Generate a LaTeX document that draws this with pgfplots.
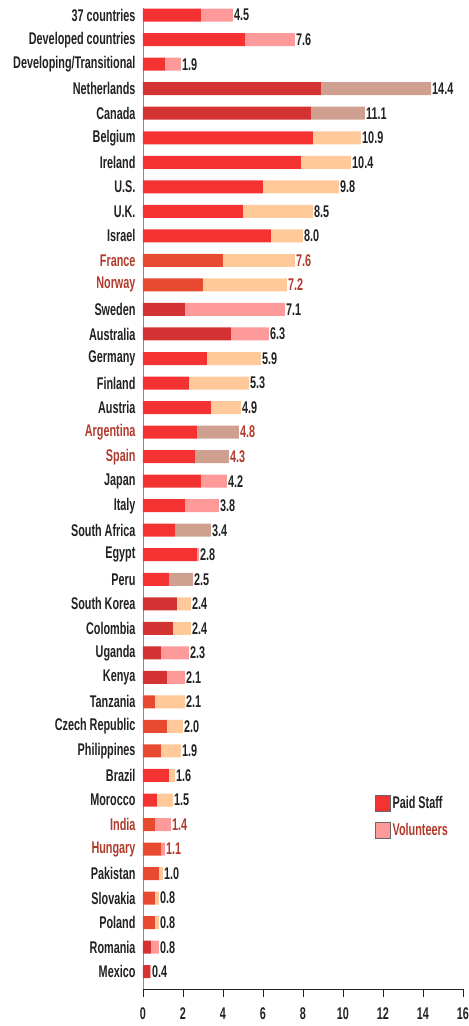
\documentclass[border=0pt]{standalone}
\usepackage{fontspec}
\setmainfont{Liberation Sans}[FakeStretch=0.64]
\usepackage{pgfplots}
\usepackage{pgfplotstable}
\pgfplotsset{compat=1.18}
\definecolor{pR}{HTML}{F53232}
\definecolor{pD}{HTML}{D43333}
\definecolor{pO}{HTML}{E84A30}
\definecolor{vP}{HTML}{FF9A9A}
\definecolor{vC}{HTML}{FFC99A}
\definecolor{vT}{HTML}{CFA090}
\definecolor{txt}{HTML}{222222}
\definecolor{brn}{HTML}{B23A2C}
\newcommand{\lblfont}{\bfseries\fontsize{17}{18}\selectfont}

\pgfplotstableread{
pos pR pD pO vP vC vT
0 2.9 0 0 1.6 0 0
1 5.1 0 0 2.5 0 0
2 1.1 0 0 0.8 0 0
3 0 8.9 0 0 0 5.5
4 0 8.4 0 0 0 2.7
5 8.5 0 0 0 2.4 0
6 7.9 0 0 0 2.5 0
7 6.0 0 0 0 3.8 0
8 5.0 0 0 0 3.5 0
9 6.4 0 0 0 1.6 0
10 0 0 4.0 0 3.6 0
11 0 0 3.0 0 4.2 0
12 0 2.1 0 5.0 0 0
13 0 4.4 0 1.9 0 0
14 3.2 0 0 0 2.7 0
15 2.3 0 0 0 3.0 0
16 3.4 0 0 0 1.5 0
17 2.7 0 0 0 0 2.1
18 2.6 0 0 0 0 1.7
19 2.9 0 0 1.3 0 0
20 2.1 0 0 1.7 0 0
21 1.6 0 0 0 0 1.8
22 2.7 0 0 0.1 0 0
23 1.3 0 0 0 0 1.2
24 0 1.7 0 0 0.7 0
25 0 1.5 0 0 0.9 0
26 0 0.9 0 1.4 0 0
27 0 1.2 0 0.9 0 0
28 0 0 0.6 0 1.5 0
29 0 0 1.2 0 0.8 0
30 0 0 0.9 0 1.0 0
31 1.3 0 0 0 0.3 0
32 0.7 0 0 0 0.8 0
33 0 0 0.6 0.8 0 0
34 0 0 0.9 0.2 0 0
35 0 0 0.8 0 0.2 0
36 0 0 0.6 0 0.2 0
37 0 0 0.6 0 0.2 0
38 0 0.4 0 0.4 0 0
39 0 0.35 0 0.05 0 0
}\datatab

\begin{document}
\begin{tikzpicture}
\begin{axis}[
  name=ax, at={(0,0)}, anchor=south west,
  scale only axis, width=320bp, height=981bp,
  xbar stacked, bar width=13bp,
  xmin=0, xmax=16, ymin=-0.29, ymax=39.705, y dir=reverse,
  axis x line*=bottom, axis y line*=left,
  x axis line style={draw=txt, line width=0.8pt},
  y axis line style={draw=black!45, line width=0.6pt},
  xtick={0,2,...,16}, tick align=outside, major tick length=8bp,
  x tick style={draw=txt, line width=0.8pt},
  y tick style={draw=none},
  ytick={0,...,39},
  yticklabels={37 countries,Developed countries,Developing/Transitional,Netherlands,Canada,Belgium,Ireland,U.S.,U.K.,Israel,
    \textcolor{brn}{France},\textcolor{brn}{Norway},Sweden,Australia,Germany,Finland,Austria,\textcolor{brn}{Argentina},\textcolor{brn}{Spain},Japan,
    Italy,South Africa,Egypt,Peru,South Korea,Colombia,Uganda,Kenya,Tanzania,Czech Republic,
    Philippines,Brazil,Morocco,\textcolor{brn}{India},\textcolor{brn}{Hungary},Pakistan,Slovakia,Poland,Romania,Mexico},
  /pgf/number format/assume math mode=true,
  tick label style={font=\lblfont, text=txt},
  yticklabel style={xshift=4bp},
  xticklabel style={yshift=-7bp},
  legend style={at={(axis cs:11.6,31.75)}, anchor=north west, draw=none, fill=none,
     font=\lblfont, text=txt, row sep=9bp, inner sep=0pt},
  legend cell align=left,
  legend image code/.code={\draw[#1, draw=black!60] (0bp,-8bp) rectangle (15bp,8bp);},
]
\addplot[fill=pR, draw=none] table[x=pR, y=pos] {\datatab};
\addlegendentry{Paid Staff}
\addplot[fill=pD, draw=none, forget plot] table[x=pD, y=pos] {\datatab};
\addplot[fill=pO, draw=none, forget plot] table[x=pO, y=pos] {\datatab};
\addplot[fill=vP, draw=none] table[x=vP, y=pos] {\datatab};
\addlegendentry{\textcolor{brn}{Volunteers}}
\addplot[fill=vC, draw=none, forget plot] table[x=vC, y=pos] {\datatab};
\addplot[fill=vT, draw=none, forget plot] table[x=vT, y=pos] {\datatab};
\end{axis}
\begin{axis}[
  at={(0,0)}, anchor=south west,
  scale only axis, width=320bp, height=981bp,
  xmin=0, xmax=16, ymin=-0.29, ymax=39.705, y dir=reverse,
  hide axis, clip=false,
]
\addplot[draw=none, mark=none, point meta=explicit symbolic,
  nodes near coords, nodes near coords align={horizontal},
  every node near coord/.append style={anchor=west, inner sep=1bp, font=\lblfont, text=txt}]
  coordinates {
  (4.5,0) [4.5] (7.6,1) [7.6] (1.9,2) [1.9] (14.4,3) [14.4] (11.1,4) [11.1]
  (10.9,5) [10.9] (10.4,6) [10.4] (9.8,7) [9.8] (8.5,8) [8.5] (8.0,9) [8.0]
  (7.6,10) [\color{brn}7.6] (7.2,11) [\color{brn}7.2] (7.1,12) [7.1] (6.3,13) [6.3] (5.9,14) [5.9]
  (5.3,15) [5.3] (4.9,16) [4.9] (4.8,17) [\color{brn}4.8] (4.3,18) [\color{brn}4.3] (4.2,19) [4.2]
  (3.8,20) [3.8] (3.4,21) [3.4] (2.8,22) [2.8] (2.5,23) [2.5] (2.4,24) [2.4]
  (2.4,25) [2.4] (2.3,26) [2.3] (2.1,27) [2.1] (2.1,28) [2.1] (2.0,29) [2.0]
  (1.9,30) [1.9] (1.6,31) [1.6] (1.5,32) [1.5] (1.4,33) [\color{brn}1.4] (1.1,34) [\color{brn}1.1]
  (1.0,35) [1.0] (0.8,36) [0.8] (0.8,37) [0.8] (0.8,38) [0.8] (0.4,39) [0.4]
  };
\end{axis}
\pgfresetboundingbox
\path ([xshift=-143bp,yshift=-37bp]ax.south west) rectangle ([xshift=6bp,yshift=8bp]ax.north east);
\end{tikzpicture}
\end{document}
